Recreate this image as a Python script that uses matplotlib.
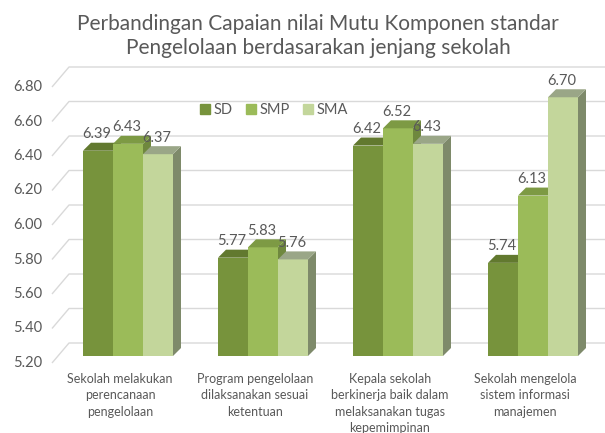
import numpy as np
import matplotlib.pyplot as plt
from matplotlib.patches import Polygon, Patch

plt.rcParams['font.family'] = ['Lato', 'DejaVu Sans']

# Data
categories = ['Sekolah melakukan\nperencanaan\npengelolaan',
              'Program pengelolaan\ndilaksanakan sesuai\nketentuan',
              'Kepala sekolah\nberkinerja baik dalam\nmelaksanakan tugas\nkepemimpinan',
              'Sekolah mengelola\nsistem informasi\nmanajemen']
series = ['SD', 'SMP', 'SMA']
sd = [6.39, 5.77, 6.42, 5.74]
smp = [6.43, 5.83, 6.52, 6.13]
sma = [6.37, 5.76, 6.43, 6.70]
yticks = [5.20, 5.40, 5.60, 5.80, 6.00, 6.20, 6.40, 6.60, 6.80]

front_col = ['#77933C', '#9BBB59', '#C3D69B']
top_col = ['#62792F', '#7D9A44', '#9AA687']
side_col = ['#55692A', '#6F883E', '#7E8A6A']
txt = '#595959'

base = 5.20
PX = 1 / 135.0     # category units per pixel
PY = 1 / 172.5     # value units per pixel

fig = plt.figure(figsize=(6.05, 4.33), dpi=100)
ax = fig.add_axes([0, 0, 1, 1])
ax.set_xlim(-128 * PX, (605 - 128) * PX)
ax.set_ylim(base - 77 * PY, base + 356 * PY)
ax.axis('off')

# 3D gridlines on back wall
xf = (52 - 128) * PX
fy = -7 * PY
wdx, wdy = 17 * PX, 20 * PY
for v in yticks:
    ax.plot([xf, xf + wdx, ax.get_xlim()[1]], [v + fy, v + fy + wdy, v + fy + wdy],
            color='#D9D9D9', lw=1.0, zorder=0, solid_capstyle='butt')
    ax.text((42 - 128) * PX, v + fy, f'{v:.2f}', ha='right', va='center',
            fontsize=10.5, color=txt)

# bars
w = 30 * PX
bdx, bdy = 8 * PX, 8 * PY
x = np.arange(len(categories))
for j, vals in enumerate([sd, smp, sma]):
    xs = x + (j - 1) * w
    ax.bar(xs, np.array(vals) - base, bottom=base, width=w, color=front_col[j],
           zorder=2 + j, linewidth=0)
    for xc, v in zip(xs, vals):
        x0, x1 = xc - w / 2, xc + w / 2
        ax.add_patch(Polygon([(x0, v), (x0 + bdx, v + bdy), (x1 + bdx, v + bdy), (x1, v)],
                             closed=True, fc=top_col[j], ec='none', zorder=2 + j))
        ax.add_patch(Polygon([(x1, base), (x1 + bdx, base + bdy), (x1 + bdx, v + bdy), (x1, v)],
                             closed=True, fc=side_col[j], ec='none', zorder=1.5 + j))
        ax.text(xc - 1 * PX, v + 16.5 * PY, f'{v:.2f}', ha='center', va='center',
                fontsize=10.5, color=txt, zorder=10)

# category labels
for i, c in enumerate(categories):
    ax.text(i - 8 * PX, base - 17 * PY, c, ha='center', va='top', fontsize=9,
            color=txt, linespacing=1.45)

# legend
handles = [Patch(color=front_col[j], label=series[j]) for j in range(3)]
fig.legend(handles=handles, loc='center', bbox_to_anchor=(274 / 605, 1 - 110 / 433),
           ncol=3, frameon=False, fontsize=10.5, handlelength=0.7, handleheight=0.7,
           handletextpad=0.25, columnspacing=0.9, labelcolor=txt)

# title
fig.text(318 / 605, 1 - 36 / 433,
         'Perbandingan Capaian nilai Mutu Komponen standar\nPengelolaan berdasarakan jenjang sekolah',
         ha='center', va='center', fontsize=15, color=txt, linespacing=1.25)

fig.savefig('out.png', dpi=100)
